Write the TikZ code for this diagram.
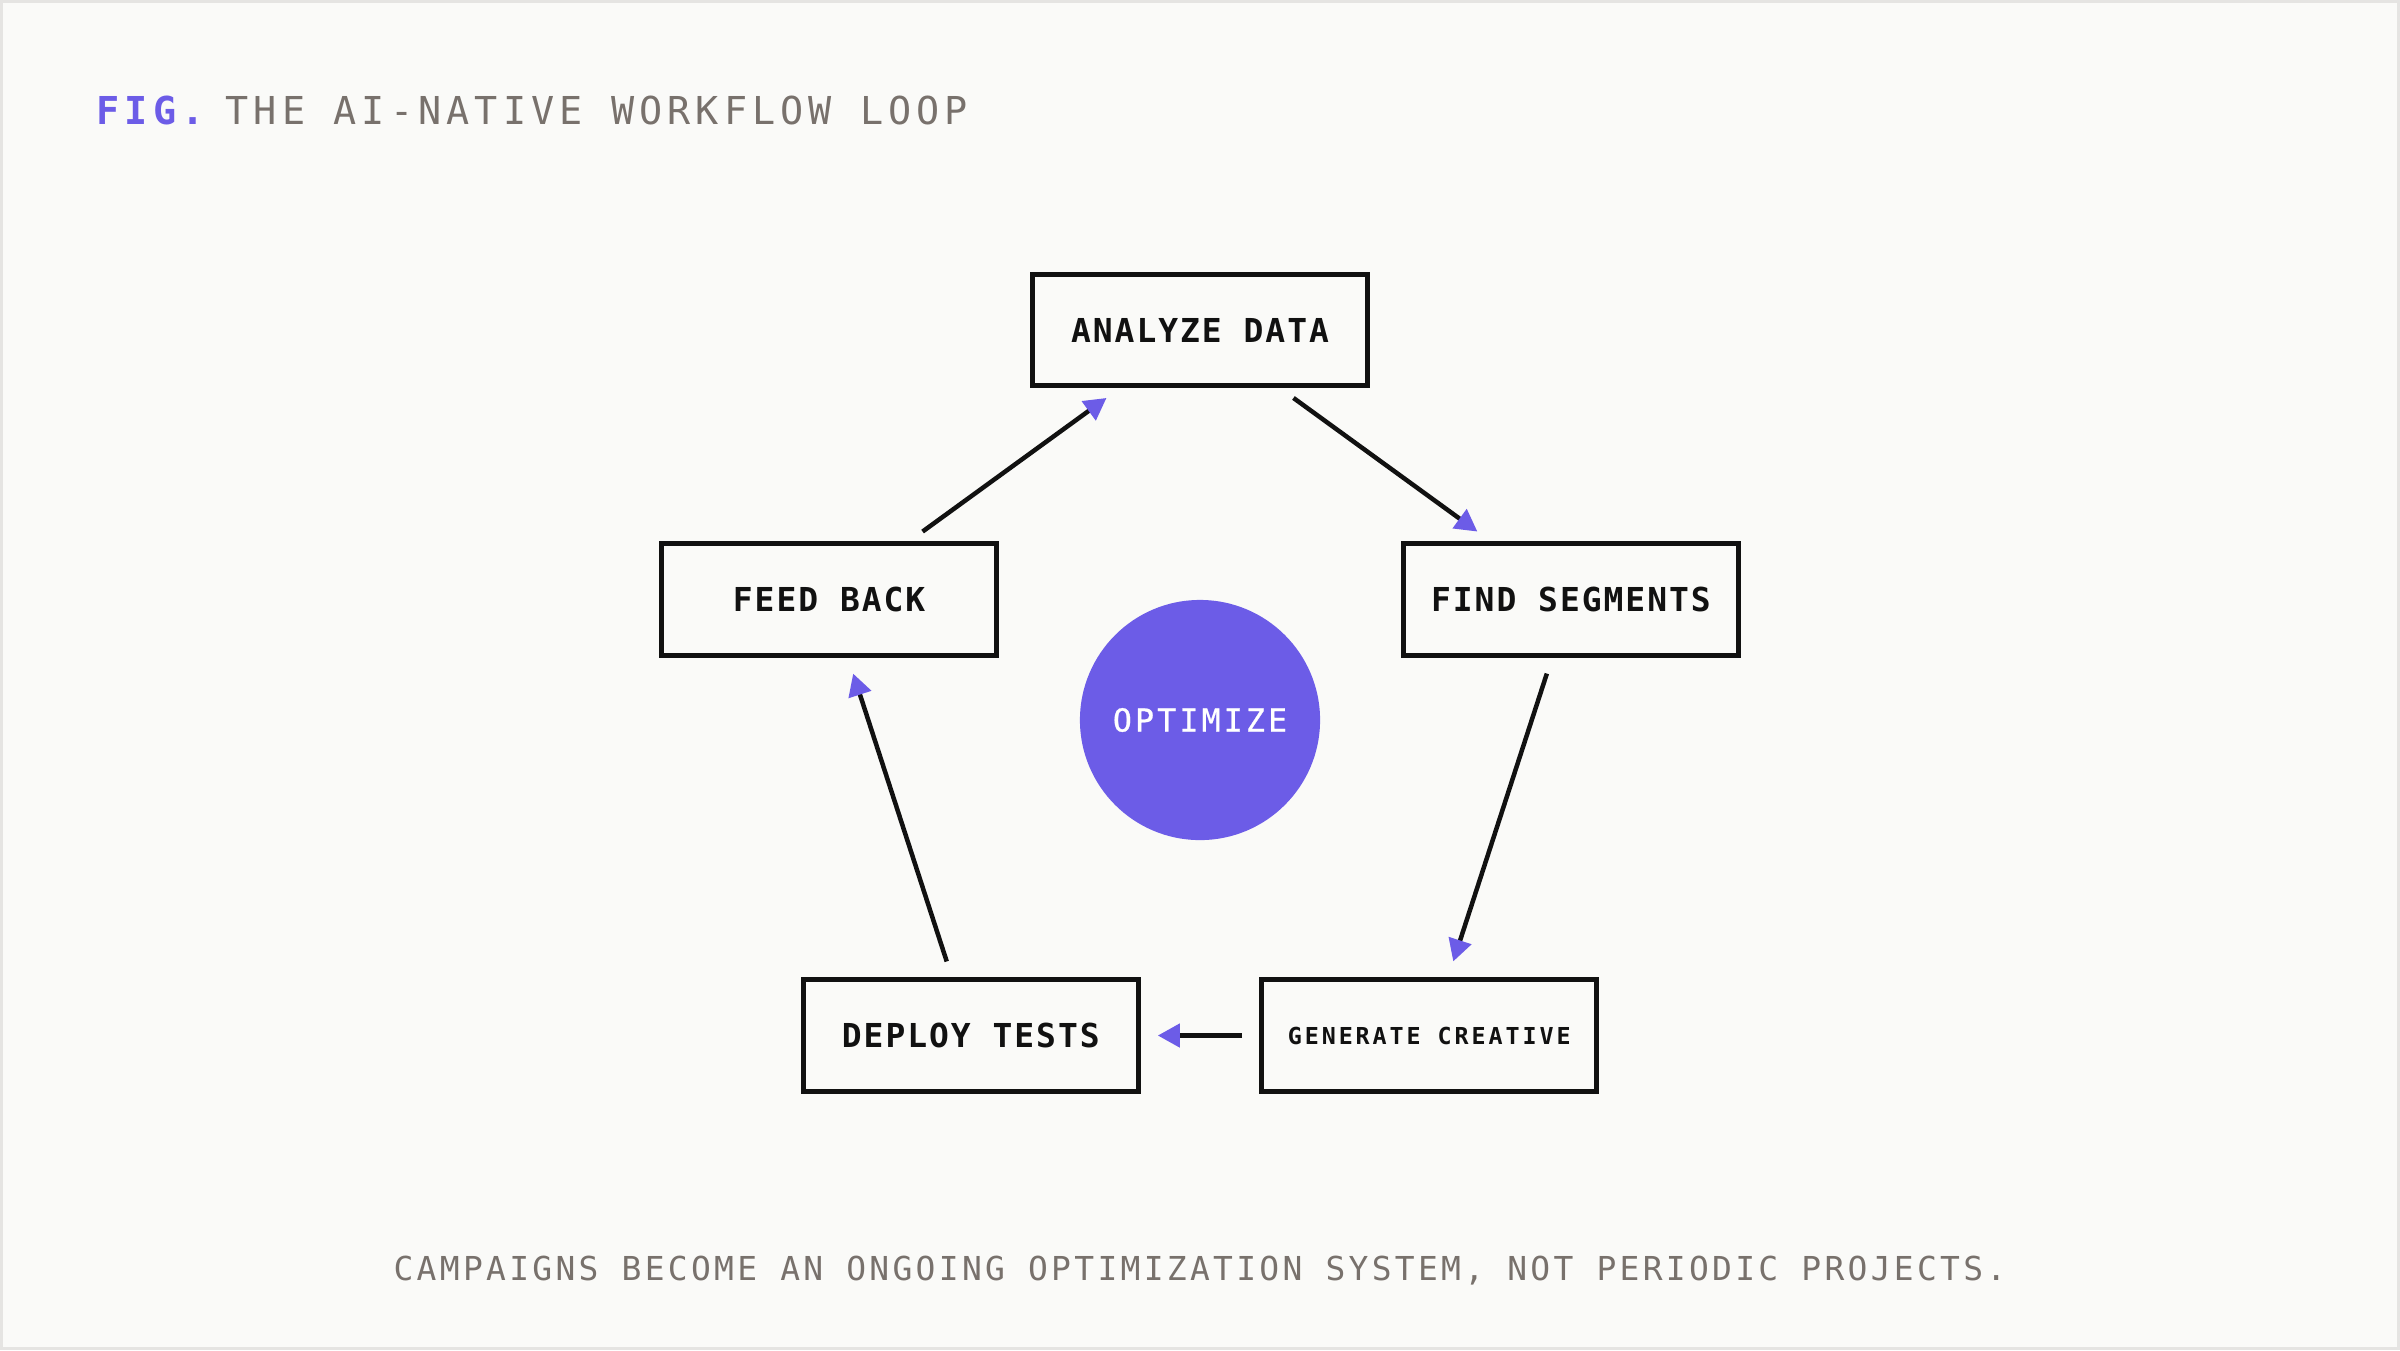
\documentclass[tikz,border=0pt]{standalone}
\usepackage{fontspec}
\usetikzlibrary{arrows.meta}
\newfontfamily\titlefnt[LetterSpace=13.3]{DejaVu Sans Mono}
\newfontfamily\capfnt[LetterSpace=10.0]{DejaVu Sans Mono}
\newfontfamily\boxfnt[LetterSpace=6]{DejaVu Sans Mono}
\newfontfamily\genfnt[LetterSpace=12.5]{DejaVu Sans Mono}
\newfontfamily\optfnt[LetterSpace=10,FakeBold=0.8]{DejaVu Sans Mono}
\definecolor{purp}{RGB}{108,92,231}
\definecolor{bgc}{RGB}{250,250,248}
\definecolor{framec}{RGB}{229,228,226}
\definecolor{stone}{RGB}{120,113,108}
\definecolor{ink}{RGB}{17,17,17}
\tikzset{
  stepbox/.style={draw=ink, line width=0.5mm, minimum width=3.35cm, minimum height=1.11cm,
    inner sep=0pt, text=ink, font={\boxfnt\bfseries\fontsize{9.37pt}{11pt}\selectfont}},
  conn/.style={draw=ink, line width=0.45mm, shorten <=4.8pt, shorten >=4.8pt,
    -{Triangle[length=6.26pt,width=6.54pt,color=purp]}},
}
\begin{document}
\begin{tikzpicture}[x=0.01cm,y=-0.01cm]
\useasboundingbox (0,0) rectangle (2400,1350);
\fill[framec] (0,0) rectangle (2400,1350);
\fill[bgc] (3,3) rectangle (2397,1347);
% title
\node[anchor=base west, inner sep=0pt, text=purp] (fig) at (96,124)
  {\titlefnt\bfseries\fontsize{10.93pt}{13pt}\selectfont FIG.};
\node[anchor=base west, inner sep=0pt, text=stone] (title) at (225,124)
  {\titlefnt\fontsize{10.93pt}{13pt}\selectfont THE AI-NATIVE WORKFLOW LOOP};
% centre
\node[circle, fill=purp, minimum size=2.4cm, inner sep=0pt, text=white,
  font={\optfnt\fontsize{8.98pt}{11pt}\selectfont}] (opt) at (1200,720) {OPTIMIZE};
% boxes
\node[stepbox] (analyze) at (1200,330) {ANALYZE DATA};
\node[stepbox] (segments) at (1570.9,599.5) {FIND SEGMENTS};
\node[stepbox, font={\genfnt\bfseries\fontsize{6.64pt}{8pt}\selectfont}] (generate) at (1429.2,1035.5) {GENERATE CREATIVE};
\node[stepbox] (deploy) at (970.8,1035.5) {DEPLOY TESTS};
\node[stepbox] (feed) at (829.1,599.5) {FEED BACK};
% connectors
\draw[conn] (feed) -- (analyze);
\draw[conn] (analyze) -- (segments);
\draw[conn] (segments) -- (generate);
\draw[conn] (generate) -- (deploy);
\draw[conn] (deploy) -- (feed);
% caption
\node[anchor=base, inner sep=0pt, text=stone] (caption) at (1200,1280)
  {\capfnt\fontsize{9.37pt}{11pt}\selectfont CAMPAIGNS BECOME AN ONGOING OPTIMIZATION SYSTEM, NOT PERIODIC PROJECTS.};
\end{tikzpicture}
\end{document}
